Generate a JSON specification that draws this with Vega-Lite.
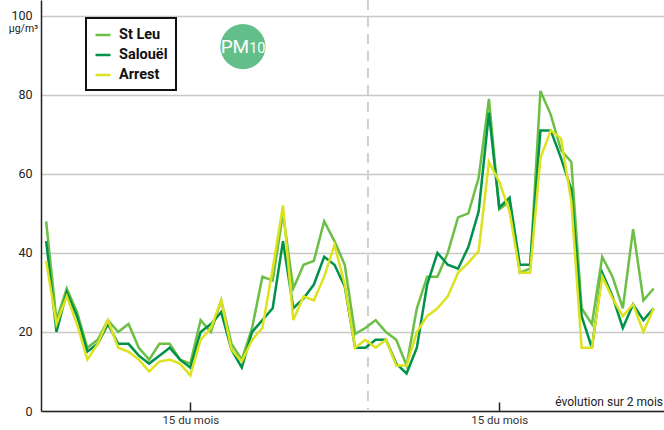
{
  "$schema": "https://vega.github.io/schema/vega-lite/v6.json",
  "width": 623,
  "height": 411,
  "autosize": {"type": "none"},
  "padding": {"left": 41, "top": 0, "right": 0, "bottom": 19},
  "background": "white",
  "config": {
    "view": {"stroke": null},
    "font": "Roboto, Liberation Sans, sans-serif",
    "legend": {"strokeWidth": 2}
  },
  "datasets": {
    "pm10": [
      {"i": 0, "St Leu": 48, "Salouël": 43, "Arrest": 38},
      {"i": 1, "St Leu": 23, "Salouël": 20, "Arrest": 22},
      {"i": 2, "St Leu": 31, "Salouël": 30, "Arrest": 29},
      {"i": 3, "St Leu": 25, "Salouël": 24, "Arrest": 22},
      {"i": 4, "St Leu": 16, "Salouël": 15, "Arrest": 13},
      {"i": 5, "St Leu": 18, "Salouël": 17, "Arrest": 17},
      {"i": 6, "St Leu": 23, "Salouël": 22, "Arrest": 23},
      {"i": 7, "St Leu": 20, "Salouël": 17, "Arrest": 16},
      {"i": 8, "St Leu": 22, "Salouël": 17, "Arrest": 15},
      {"i": 9, "St Leu": 16, "Salouël": 14, "Arrest": 13},
      {"i": 10, "St Leu": 13, "Salouël": 12, "Arrest": 10},
      {"i": 11, "St Leu": 17, "Salouël": 14, "Arrest": 12.5},
      {"i": 12, "St Leu": 17, "Salouël": 16, "Arrest": 13},
      {"i": 13, "St Leu": 13, "Salouël": 13, "Arrest": 12},
      {"i": 14, "St Leu": 12, "Salouël": 11, "Arrest": 9},
      {"i": 15, "St Leu": 23, "Salouël": 20, "Arrest": 18},
      {"i": 16, "St Leu": 20, "Salouël": 22, "Arrest": 21},
      {"i": 17, "St Leu": 28, "Salouël": 25, "Arrest": 28},
      {"i": 18, "St Leu": 17, "Salouël": 15.5, "Arrest": 15.5},
      {"i": 19, "St Leu": 13, "Salouël": 11, "Arrest": 12.5},
      {"i": 20, "St Leu": 21, "Salouël": 20, "Arrest": 18},
      {"i": 21, "St Leu": 34, "Salouël": 23, "Arrest": 21},
      {"i": 22, "St Leu": 33, "Salouël": 26, "Arrest": 36},
      {"i": 23, "St Leu": 50, "Salouël": 43, "Arrest": 52},
      {"i": 24, "St Leu": 31, "Salouël": 26, "Arrest": 23},
      {"i": 25, "St Leu": 37, "Salouël": 28.5, "Arrest": 29},
      {"i": 26, "St Leu": 38, "Salouël": 32, "Arrest": 28},
      {"i": 27, "St Leu": 48, "Salouël": 39, "Arrest": 34},
      {"i": 28, "St Leu": 43, "Salouël": 37, "Arrest": 42},
      {"i": 29, "St Leu": 37, "Salouël": 31.5, "Arrest": 32},
      {"i": 30, "St Leu": 19.5, "Salouël": 16, "Arrest": 16},
      {"i": 31, "St Leu": 21, "Salouël": 16, "Arrest": 18},
      {"i": 32, "St Leu": 23, "Salouël": 18, "Arrest": 16},
      {"i": 33, "St Leu": 20, "Salouël": 18, "Arrest": 18},
      {"i": 34, "St Leu": 18, "Salouël": 12, "Arrest": 11.5},
      {"i": 35, "St Leu": 11.5, "Salouël": 9.5, "Arrest": 11.5},
      {"i": 36, "St Leu": 26, "Salouël": 16, "Arrest": 20},
      {"i": 37, "St Leu": 34, "Salouël": 32, "Arrest": 24},
      {"i": 38, "St Leu": 34, "Salouël": 40, "Arrest": 26},
      {"i": 39, "St Leu": 40, "Salouël": 37, "Arrest": 29},
      {"i": 40, "St Leu": 49, "Salouël": 36, "Arrest": 35},
      {"i": 41, "St Leu": 50, "Salouël": 41.5, "Arrest": 37.5},
      {"i": 42, "St Leu": 59, "Salouël": 50.5, "Arrest": 40.5},
      {"i": 43, "St Leu": 79, "Salouël": 75.5, "Arrest": 63},
      {"i": 44, "St Leu": 51, "Salouël": 51.5, "Arrest": 58},
      {"i": 45, "St Leu": 53, "Salouël": 54, "Arrest": 50.5},
      {"i": 46, "St Leu": 35, "Salouël": 37, "Arrest": 35},
      {"i": 47, "St Leu": 36, "Salouël": 37, "Arrest": 35},
      {"i": 48, "St Leu": 81, "Salouël": 71, "Arrest": 64},
      {"i": 49, "St Leu": 75, "Salouël": 71, "Arrest": 71},
      {"i": 50, "St Leu": 66, "Salouël": 64, "Arrest": 69},
      {"i": 51, "St Leu": 63, "Salouël": 56, "Arrest": 53},
      {"i": 52, "St Leu": 26, "Salouël": 24, "Arrest": 16},
      {"i": 53, "St Leu": 22, "Salouël": 16, "Arrest": 16},
      {"i": 54, "St Leu": 39, "Salouël": 35, "Arrest": 34},
      {"i": 55, "St Leu": 34, "Salouël": 29, "Arrest": 28.5},
      {"i": 56, "St Leu": 26, "Salouël": 21, "Arrest": 24},
      {"i": 57, "St Leu": 46, "Salouël": 27, "Arrest": 27},
      {"i": 58, "St Leu": 28, "Salouël": 23, "Arrest": 20},
      {"i": 59, "St Leu": 31, "Salouël": 26, "Arrest": 26}
    ]
  },
  "layer": [
    {
      "data": {"values": [{}]},
      "mark": {"type": "rule", "color": "#d0d0d0", "strokeWidth": 2, "strokeDash": [10, 7]},
      "encoding": {"x": {"datum": 31.25}}
    },
    {
      "data": {"name": "pm10"},
      "transform": [{"fold": ["St Leu", "Salouël", "Arrest"], "as": ["station", "v"]}],
      "mark": {"type": "line", "strokeWidth": 2.5},
      "encoding": {
        "x": {
          "field": "i", "type": "quantitative",
          "scale": {"domain": [-0.5, 60], "nice": false, "zero": false},
          "axis": {
            "title": null, "grid": false, "values": [14, 44],
            "labelExpr": "'15 du mois'",
            "tickSize": -9, "tickColor": "#222", "tickWidth": 1.5,
            "domainColor": "#222", "domainWidth": 1.5,
            "labelPadding": 12, "labelFontSize": 11.5, "labelColor": "#333"
          }
        },
        "y": {
          "field": "v", "type": "quantitative",
          "scale": {"domain": [0, 104], "nice": false},
          "axis": {
            "title": null, "values": [0, 20, 40, 60, 80, 100],
            "ticks": false, "grid": true, "gridColor": "#c8c8c8", "gridWidth": 1.5,
            "domainColor": "#222", "domainWidth": 1.5,
            "labelPadding": 9, "labelFontSize": 12.5, "labelColor": "#222"
          }
        },
        "color": {
          "field": "station", "type": "nominal",
          "scale": {"domain": ["St Leu", "Salouël", "Arrest"], "range": ["#6cbf45", "#00924a", "#dde21e"]},
          "legend": {
            "title": null, "orient": "none", "legendX": 45, "legendY": 18,
            "symbolType": "stroke", "symbolStrokeWidth": 2.5, "symbolSize": 225,
            "labelFontSize": 14.5, "labelFontWeight": "bold", "labelColor": "#111",
            "strokeColor": "#111", "fillColor": "white",
            "padding": 8, "rowPadding": 4, "labelOffset": 7
          }
        }
      }
    },
    {
      "data": {"values": [{}]},
      "mark": {"type": "point", "shape": "circle", "filled": true, "opacity": 1, "color": "#63bf8a", "size": 2040},
      "encoding": {"x": {"datum": 19.11}, "y": {"datum": 92.2}}
    },
    {
      "data": {"values": [{}]},
      "mark": {"type": "text", "text": "PM", "align": "right", "baseline": "alphabetic", "fontSize": 19, "color": "white"},
      "encoding": {"x": {"datum": 19.72}, "y": {"datum": 90.6}}
    },
    {
      "data": {"values": [{}]},
      "mark": {"type": "text", "text": "10", "align": "left", "baseline": "alphabetic", "fontSize": 14.5, "color": "white"},
      "encoding": {"x": {"datum": 19.72}, "y": {"datum": 90.6}}
    },
    {
      "data": {"values": [{}]},
      "mark": {"type": "text", "text": "µg/m³", "align": "right", "baseline": "middle", "fontSize": 10.5, "dx": -3, "color": "#222"},
      "encoding": {"x": {"datum": -0.5}, "y": {"datum": 96.6}}
    },
    {
      "data": {"values": [{}]},
      "mark": {"type": "text", "text": "évolution sur 2 mois", "align": "right", "baseline": "alphabetic", "fontSize": 12, "dx": -1, "color": "#222"},
      "encoding": {"x": {"datum": 60}, "y": {"datum": 1.3}}
    }
  ]
}
